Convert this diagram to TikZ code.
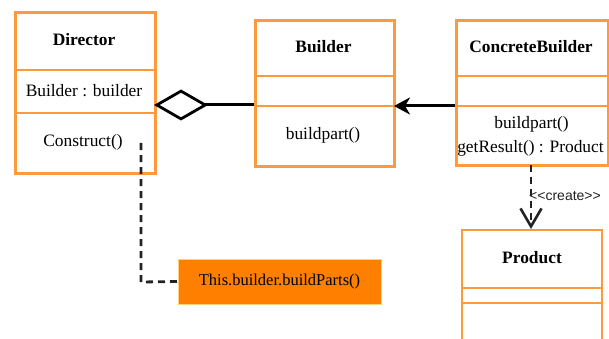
\documentclass[tikz,border=0pt]{standalone}
\usepackage{fontspec}
\setmainfont{Liberation Serif}
\newfontfamily\lsans{Liberation Sans}
\usetikzlibrary{arrows.meta}
\definecolor{umlorange}{HTML}{FF9A3C}
\definecolor{notefill}{HTML}{FF8000}
\definecolor{noteedge}{HTML}{FFD27A}
\definecolor{dashgray}{HTML}{222222}
\tikzset{
  classbox/.style={draw=umlorange, line width=2.9pt, fill=none, inner sep=0pt, anchor=north west},
  divider/.style={draw=umlorange, line width=2.9pt},
  ctitle/.style={font=\fontsize{17.4}{20}\selectfont\bfseries, inner sep=0pt},
  ctext/.style={font=\fontsize{17.4}{20}\selectfont, inner sep=0pt},
  conn/.style={draw=black, line width=3pt},
  dashconn/.style={draw=dashgray, line width=2.8pt, dash pattern=on 7pt off 5pt},
  notebox/.style={fill=notefill, draw=noteedge, line width=0.8pt, minimum width=203pt, minimum height=45pt, inner sep=0pt, font=\fontsize{16.5}{20}\selectfont},
  smalllabel/.style={font=\lsans\fontsize{14}{16}\selectfont, text=dashgray, inner sep=0pt, anchor=west}
}
\begin{document}
\begin{tikzpicture}[x=1pt,y=-1pt]
\useasboundingbox (0,0) rectangle (609,339);
% Director
\node[classbox, minimum width=140pt, minimum height=161pt] (dir) at (14,11) {};
\draw[divider] (14,70) coordinate (d1l) -- (154,70) coordinate (d1r);
\draw[divider] (14,113) coordinate (d2l) -- (154,113) coordinate (d2r);
\node[ctitle] (dirt) at (84,40) {Director};
\node[ctext] (dira) at (84,91) {Builder : builder};
\node[ctext] (dirm) at (83,142) {Construct()};
% Builder
\node[classbox, minimum width=139pt, minimum height=146pt] (bld) at (254,19) {};
\draw[divider] (254,76) coordinate (b1l) -- (393,76) coordinate (b1r);
\draw[divider] (254,106) coordinate (b2l) -- (393,106) coordinate (b2r);
\node[ctitle] (bldt) at (323.5,47) {Builder};
\node[ctext] (bldm) at (323,135) {buildpart()};
% ConcreteBuilder
\node[classbox, minimum width=152pt, minimum height=145pt] (cb) at (455,19) {};
\draw[divider] (455,76) coordinate (c1l) -- (607,76) coordinate (c1r);
\draw[divider] (455,106) coordinate (c2l) -- (607,106) coordinate (c2r);
\node[ctitle] (cbt) at (531,47) {ConcreteBuilder};
\node[ctext] (cbm1) at (531.5,124) {buildpart()};
\node[ctext] (cbm2) at (530.5,148) {getResult() : Product};
% Product
\draw[divider] (462,340) coordinate (pbl) -- (462,230) coordinate (ptl) -- (602,230) coordinate (ptr) -- (602,340) coordinate (pbr);
\draw[divider] (462,288) coordinate (p1l) -- (602,288) coordinate (p1r);
\draw[divider] (462,303) coordinate (p2l) -- (602,303) coordinate (p2r);
\node[ctitle] (prt) at (532,258) {Product};
% aggregation
\coordinate (aggS) at (154,105);
\coordinate (aggE) at (254,105);
\draw[conn, {Diamond[open, length=54pt, width=31pt, line width=2.8pt]}-] (aggS) -- (aggE);
% directed association
\coordinate (genS) at (455,106);
\coordinate (genE) at (394,106);
\draw[conn, -{Stealth[length=16pt, width=17pt, inset=5pt]}] (genS) -- (genE);
% create dependency
\coordinate (crS) at (531,165);
\coordinate (crE) at (531,229);
\draw[dashconn, -{Straight Barb[length=18pt, width=21pt, line width=2.6pt]}] (crS) -- (crE);
\node[smalllabel] (crl) at (529,196) {<<create>>};
% note
\node[notebox] (note) at (279.5,281.5) {This.builder.buildParts()};
\coordinate (nS) at (141,143);
\draw[dashconn] (nS) -- (141,282) -- (note.west);
\end{tikzpicture}
\end{document}
